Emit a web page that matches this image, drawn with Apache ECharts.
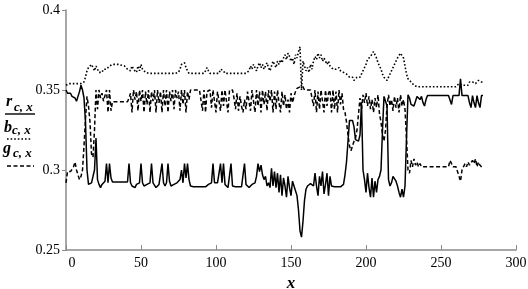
<!DOCTYPE html>
<html>
<head>
<meta charset="utf-8">
<script src="https://cdn.jsdelivr.net/npm/echarts@6/dist/echarts.min.js"></script>
<style>
html,body{margin:0;padding:0;background:#fff;}
#c{width:528px;height:289px;}
</style>
</head>
<body>
<div id="c"></div>
<script>
// x = sample index (0..278)
var rVals = [
0.350,0.348,0.347,0.348,0.346,0.347,0.345,0.343,0.346,0.349,
0.353,0.350,0.345,0.330,0.300,0.291,0.290,0.292,0.291,0.300,
0.320,0.294,0.291,0.289,0.291,0.290,0.293,0.304,0.292,0.304,
0.295,0.2925,0.2925,0.2925,0.2925,0.2925,0.2925,0.2925,0.2925,0.2925,
0.2925,0.2925,0.304,0.292,0.290,0.291,0.289,0.291,0.290,0.292,
0.304,0.292,0.290,0.289,0.291,0.290,0.292,0.304,0.292,0.291,
0.289,0.290,0.291,0.292,0.304,0.292,0.290,0.292,0.304,0.293,
0.290,0.289,0.291,0.290,0.292,0.291,0.294,0.300,0.292,0.304,
0.295,0.304,0.294,0.290,0.2895,0.2895,0.2895,0.2895,0.2895,0.2895,
0.2895,0.2895,0.2895,0.2895,0.2895,0.291,0.291,0.292,0.304,0.292,
0.291,0.292,0.291,0.304,0.292,0.304,0.291,0.290,0.289,0.290,
0.304,0.290,0.2895,0.2895,0.2895,0.2895,0.2895,0.2895,0.2895,0.304,
0.291,0.290,0.289,0.290,0.291,0.290,0.292,0.296,0.304,0.299,
0.303,0.297,0.294,0.296,0.290,0.292,0.289,0.301,0.290,0.299,
0.289,0.298,0.286,0.297,0.284,0.295,0.290,0.283,0.296,0.289,
0.284,0.293,0.290,0.289,0.284,0.275,0.262,0.258,0.268,0.281,
0.288,0.290,0.291,0.2915,0.2915,0.290,0.298,0.290,0.284,0.296,
0.290,0.299,0.285,0.291,0.298,0.284,0.296,0.290,0.290,0.2895,
0.2895,0.2895,0.2895,0.2895,0.2895,0.291,0.297,0.305,0.318,0.331,
0.330,0.331,0.327,0.319,0.320,0.318,0.322,0.342,0.300,0.294,
0.286,0.298,0.289,0.283,0.295,0.283,0.293,0.286,0.294,0.296,
0.300,0.325,0.346,0.347,0.340,0.294,0.290,0.292,0.296,0.295,
0.293,0.290,0.286,0.283,0.288,0.283,0.290,0.320,0.347,0.345,
0.341,0.342,0.340,0.343,0.346,0.347,0.344,0.346,0.342,0.340,
0.344,0.3465,0.3465,0.3465,0.3465,0.3465,0.3465,0.3465,0.3465,0.3465,
0.3465,0.3465,0.3465,0.3465,0.3465,0.3465,0.3465,0.341,0.3465,0.3465,
0.3465,0.3465,0.3465,0.357,0.3465,0.3465,0.3465,0.3465,0.3465,0.342,
0.339,0.3465,0.342,0.339,0.3465,0.342,0.339,0.3465,0.3465
];
var gVals = [
0.292,0.299,0.300,0.299,0.300,0.302,0.305,0.300,0.297,0.294,
0.296,0.300,0.315,0.332,0.346,0.340,0.330,0.310,0.308,0.325,
0.350,0.338,0.350,0.345,0.348,0.343,0.3427,0.350,0.336,0.350,
0.337,0.3427,0.3427,0.3427,0.3427,0.3427,0.3427,0.3427,0.3427,0.3427,
0.3427,0.3427,0.345,0.348,0.336,0.350,0.344,0.349,0.337,0.350,
0.343,0.350,0.336,0.349,0.341,0.350,0.336,0.349,0.343,0.350,
0.336,0.350,0.342,0.349,0.336,0.350,0.340,0.350,0.336,0.349,
0.343,0.350,0.338,0.350,0.345,0.349,0.337,0.350,0.341,0.350,
0.336,0.349,0.344,0.350,0.350,0.350,0.350,0.350,0.350,0.350,
0.349,0.337,0.350,0.336,0.349,0.350,0.350,0.339,0.350,0.350,
0.336,0.349,0.350,0.337,0.350,0.340,0.350,0.349,0.336,0.350,
0.350,0.350,0.345,0.338,0.348,0.337,0.346,0.340,0.336,0.344,
0.338,0.349,0.350,0.337,0.350,0.349,0.336,0.350,0.340,0.349,
0.336,0.350,0.341,0.349,0.337,0.350,0.343,0.350,0.336,0.349,
0.338,0.350,0.342,0.336,0.349,0.340,0.347,0.338,0.344,0.336,
0.348,0.342,0.346,0.349,0.351,0.352,0.352,0.351,0.352,0.350,
0.350,0.350,0.349,0.350,0.350,0.340,0.350,0.336,0.349,0.338,
0.350,0.343,0.336,0.350,0.340,0.348,0.350,0.336,0.350,0.338,
0.349,0.336,0.350,0.341,0.348,0.338,0.336,0.330,0.322,0.315,
0.312,0.313,0.318,0.320,0.325,0.335,0.345,0.338,0.347,0.342,
0.348,0.340,0.346,0.338,0.344,0.336,0.345,0.339,0.347,0.335,
0.330,0.322,0.318,0.325,0.340,0.347,0.340,0.344,0.337,0.346,
0.339,0.345,0.336,0.347,0.340,0.344,0.338,0.320,0.300,0.298,
0.306,0.302,0.307,0.303,0.305,0.302,0.304,0.302,0.302,0.302,
0.302,0.302,0.302,0.302,0.302,0.302,0.302,0.302,0.302,0.302,
0.302,0.302,0.302,0.302,0.302,0.302,0.306,0.304,0.302,0.302,
0.302,0.301,0.296,0.293,0.300,0.302,0.304,0.302,0.305,0.303,
0.302,0.306,0.304,0.307,0.302,0.305,0.303,0.302,0.301
];
var bVals = [
0.353,0.354,0.354,0.354,0.354,0.354,0.354,0.354,0.354,0.354,
0.354,0.354,0.355,0.358,0.362,0.364,0.363,0.366,0.364,0.362,
0.365,0.363,0.361,0.362,0.361,0.363,0.362,0.363,0.364,0.365,
0.3655,0.366,0.366,0.366,0.366,0.366,0.3658,0.3655,0.365,0.365,
0.364,0.363,0.364,0.362,0.365,0.363,0.364,0.361,0.365,0.362,
0.366,0.363,0.362,0.361,0.3604,0.3604,0.3604,0.3604,0.3604,0.3604,
0.3604,0.3604,0.3604,0.3604,0.3604,0.3604,0.3604,0.3604,0.3604,0.3604,
0.3604,0.3604,0.3604,0.3604,0.3604,0.361,0.363,0.366,0.365,0.367,
0.364,0.362,0.3604,0.3604,0.3604,0.3604,0.3604,0.3604,0.3604,0.3604,
0.3604,0.3604,0.3604,0.362,0.364,0.362,0.3604,0.3604,0.3604,0.3604,
0.3604,0.3604,0.3604,0.363,0.364,0.362,0.3604,0.3604,0.3604,0.3604,
0.3604,0.3604,0.3604,0.3604,0.3604,0.3604,0.3604,0.3604,0.3604,0.3604,
0.3604,0.3604,0.362,0.365,0.363,0.366,0.364,0.362,0.365,0.367,
0.364,0.366,0.363,0.365,0.367,0.364,0.362,0.365,0.368,0.366,
0.364,0.368,0.366,0.369,0.367,0.370,0.372,0.369,0.373,0.371,
0.368,0.370,0.366,0.372,0.370,0.374,0.377,0.350,0.368,0.365,
0.362,0.364,0.361,0.366,0.363,0.368,0.371,0.369,0.373,0.370,
0.372,0.368,0.370,0.368,0.366,0.368,0.365,0.366,0.363,0.362,
0.363,0.362,0.364,0.362,0.363,0.361,0.362,0.360,0.359,0.358,
0.357,0.358,0.356,0.357,0.358,0.357,0.358,0.360,0.362,0.364,
0.366,0.369,0.368,0.371,0.372,0.374,0.372,0.370,0.367,0.365,
0.363,0.360,0.358,0.357,0.356,0.358,0.360,0.362,0.364,0.366,
0.368,0.370,0.371,0.373,0.372,0.370,0.365,0.360,0.357,0.356,
0.355,0.354,0.353,0.352,0.352,0.352,0.352,0.352,0.352,0.352,
0.352,0.352,0.352,0.352,0.352,0.352,0.352,0.352,0.352,0.352,
0.352,0.352,0.352,0.352,0.352,0.352,0.352,0.352,0.352,0.352,
0.352,0.353,0.354,0.355,0.353,0.352,0.353,0.354,0.353,0.355,
0.354,0.355,0.356,0.354,0.355,0.356,0.355,0.355,0.355
];
var xTicks = [0, 50, 100, 150, 200, 250, 300];
var yTicks = [0.25, 0.3, 0.35, 0.4];
var legendNames = ['r', 'b', 'g'];
var subLabel = 'c, x';

function toPairs(arr) { return arr.map(function (v, i) { return [i, v]; }); }

var SERIF = 'Liberation Serif';
var chart = echarts.init(document.getElementById('c'), null, {renderer: 'canvas'});
var axisColor = '#8a8a8a';
var lbl = function (txt, x, y, size) {
  return {type: 'text', left: x, top: y, style: {text: txt, font: 'italic bold ' + size + 'px "' + SERIF + '"', fill: '#000'}};
};
chart.setOption({
  animation: false,
  backgroundColor: '#fff',
  grid: {left: 66, right: 12, top: 10, bottom: 39, containLabel: false, outerBoundsMode: 'none'},
  xAxis: {
    type: 'value', min: xTicks[0], max: xTicks[xTicks.length - 1], interval: 50,
    name: 'x', nameLocation: 'middle', nameGap: 18,
    nameTextStyle: {fontFamily: SERIF, fontStyle: 'italic', fontWeight: 'bold', fontSize: 17, color: '#000'},
    axisLine: {lineStyle: {color: axisColor, width: 1.5}},
    axisTick: {inside: true, length: 5, lineStyle: {color: axisColor, width: 1}},
    splitLine: {show: false},
    axisLabel: {
      fontFamily: SERIF, fontSize: 14, color: '#000', margin: 6,
      formatter: function (v) { return v === 0 ? '{z|0}' : String(v); },
      rich: {z: {fontFamily: SERIF, fontSize: 14, color: '#000', padding: [0, 0, 0, 12]}}
    }
  },
  yAxis: {
    type: 'value', min: yTicks[0], max: yTicks[yTicks.length - 1], interval: 0.05,
    axisLine: {show: true, lineStyle: {color: axisColor, width: 1.5}},
    axisTick: {show: true, inside: false, length: 4, lineStyle: {color: axisColor, width: 1}},
    splitLine: {show: false},
    axisLabel: {
      fontFamily: SERIF, fontSize: 14, color: '#000', margin: 6,
      formatter: function (v) { return String(+v.toFixed(2)); }
    }
  },
  series: [
    {type: 'line', name: 'r', data: toPairs(rVals), symbol: 'none', z: 3,
     lineStyle: {color: '#000', width: 1.5, type: 'solid'}},
    {type: 'line', name: 'b', data: toPairs(bVals), symbol: 'none', z: 2,
     lineStyle: {color: '#000', width: 1.6, type: [1.6, 2]}},
    {type: 'line', name: 'g', data: toPairs(gVals), symbol: 'none', z: 2,
     lineStyle: {color: '#000', width: 1.5, type: [4, 2.5]}}
  ],
  graphic: [
    lbl(legendNames[0], 6, 94, 16),
    lbl(subLabel, 14, 101, 13),
    {type: 'line', shape: {x1: 5, y1: 114, x2: 35, y2: 114}, style: {stroke: '#000', lineWidth: 1.4}},
    lbl(legendNames[1], 4, 120, 16),
    lbl(subLabel, 12, 124, 13),
    {type: 'line', shape: {x1: 7, y1: 139, x2: 32, y2: 139}, style: {stroke: '#000', lineWidth: 1.6, lineDash: [1.6, 2]}},
    lbl(legendNames[2], 3, 141, 16),
    lbl(subLabel, 13, 147, 13),
    {type: 'line', shape: {x1: 7, y1: 166, x2: 34, y2: 166}, style: {stroke: '#000', lineWidth: 1.4, lineDash: [4, 2.5]}}
  ]
});
</script>
</body>
</html>
